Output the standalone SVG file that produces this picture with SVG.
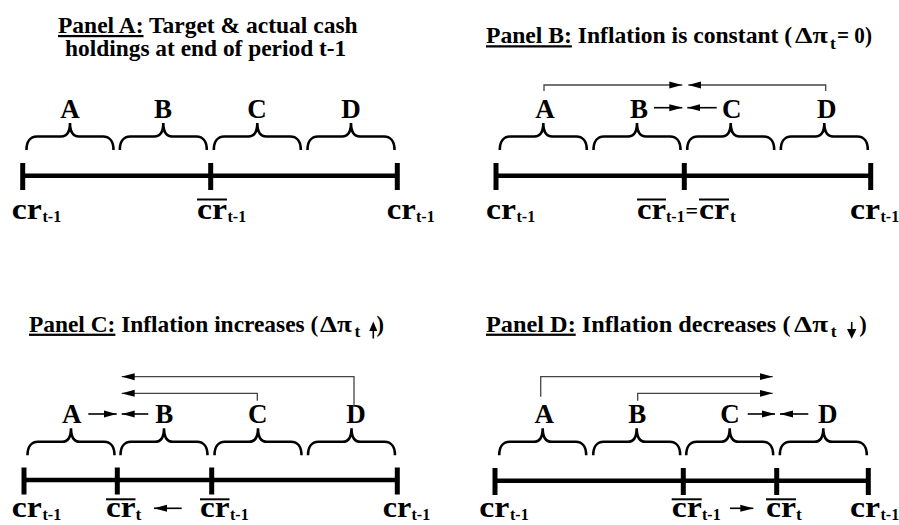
<svg xmlns="http://www.w3.org/2000/svg" width="899" height="525" viewBox="0 0 899 525">
<style>
text{font-family:"Liberation Serif","Times New Roman",serif;font-weight:bold;fill:#000}
.ttl{font-size:22.5px}
.let{font-size:27px;text-anchor:middle}
.cr{font-size:30px}
.sub{font-size:16px}
.subt{font-size:17.5px}
.eq{font-size:22px}
.axis{stroke:#000;stroke-width:4.5;fill:none}
.tick{stroke:#000;stroke-width:5;fill:none}
.ov{stroke:#000;stroke-width:2}
.brace{fill:none;stroke:#000;stroke-width:2.6}
.conn{fill:none;stroke:#444;stroke-width:1.3}
.short{fill:none;stroke:#000;stroke-width:1.6}
</style>
<defs>
<marker id="ah" markerUnits="userSpaceOnUse" markerWidth="13" markerHeight="8" refX="13" refY="4" orient="auto">
<path d="M0,0.5 L13,4 L0,7.5 z" fill="#000"/>
</marker>
<path id="br" d="M-43.5,27 C-43.5,19 -40,13.5 -33,13.5 H-9 C-3,13.5 0,9 0,0 C0,9 3,13.5 9,13.5 H33 C40,13.5 43.5,19 43.5,27"/>
</defs>

<!-- Panel A -->
<g id="panelA">
<g id="titleA">
<text class="ttl" transform="translate(58,33) scale(1.045,1)"><tspan text-decoration="underline">Panel A:</tspan> Target &amp; actual cash</text>
<text class="ttl" transform="translate(65,56) scale(1.04,1)">holdings at end of period t-1</text>
</g>
<g id="axisA">
<line class="axis" x1="23" y1="175.7" x2="397" y2="175.7"/>
<line class="tick" x1="22.7" y1="163" x2="22.7" y2="190"/>
<line class="tick" x1="210.7" y1="163" x2="210.7" y2="190"/>
<line class="tick" x1="397.3" y1="163" x2="397.3" y2="190"/>
</g>
<g id="bracesA">
<use href="#br" class="brace" x="70" y="123"/>
<use href="#br" class="brace" x="163.3" y="123"/>
<use href="#br" class="brace" x="257.3" y="123"/>
<use href="#br" class="brace" x="351" y="123"/>
</g>
<g id="lettersA">
<text class="let" x="70" y="118">A</text>
<text class="let" x="163" y="118">B</text>
<text class="let" x="257" y="118">C</text>
<text class="let" x="351" y="118">D</text>
</g>
<g id="labelsA">
<text class="cr" x="11.7" y="219" textLength="30" lengthAdjust="spacingAndGlyphs">cr</text><text class="sub" x="42.5" y="222">t-1</text>
<text class="cr" x="197" y="219" textLength="30" lengthAdjust="spacingAndGlyphs">cr</text><text class="sub" x="227.5" y="222">t-1</text>
<line class="ov" x1="197" y1="199.5" x2="227" y2="199.5"/>
<text class="cr" x="386.7" y="219" textLength="29" lengthAdjust="spacingAndGlyphs">cr</text><text class="sub" x="416" y="222">t-1</text>
</g>
</g>

<!-- Panel B -->
<g id="panelB">
<g id="titleB">
<text class="ttl" transform="translate(486,43.3) scale(1.05,1)"><tspan text-decoration="underline">Panel B:</tspan> Inflation is constant (</text>
<text class="ttl" x="795" y="43.3" textLength="33" lengthAdjust="spacingAndGlyphs">Δπ</text>
<text class="subt" x="830" y="48.8">t</text>
<text class="ttl" x="837" y="43.3" textLength="35" lengthAdjust="spacingAndGlyphs">= 0)</text>
</g>
<g id="axisB">
<line class="axis" x1="496" y1="175.7" x2="870.7" y2="175.7"/>
<line class="tick" x1="496" y1="163" x2="496" y2="190"/>
<line class="tick" x1="684.3" y1="163" x2="684.3" y2="190"/>
<line class="tick" x1="870.7" y1="163" x2="870.7" y2="190"/>
</g>
<g id="bracesB">
<use href="#br" class="brace" x="543.3" y="123"/>
<use href="#br" class="brace" x="637" y="123"/>
<use href="#br" class="brace" x="730.7" y="123"/>
<use href="#br" class="brace" x="824.3" y="123"/>
</g>
<g id="lettersB">
<text class="let" x="545" y="117.5">A</text>
<text class="let" x="639" y="117.5">B</text>
<text class="let" x="731.7" y="117.5">C</text>
<text class="let" x="826.7" y="117.5">D</text>
</g>
<g id="labelsB">
<text class="cr" x="486" y="219" textLength="30" lengthAdjust="spacingAndGlyphs">cr</text><text class="sub" x="516.5" y="222">t-1</text>
<text class="cr" x="637" y="219" textLength="29" lengthAdjust="spacingAndGlyphs">cr</text><text class="sub" x="666" y="222">t-1</text>
<line class="ov" x1="637" y1="199.5" x2="666" y2="199.5"/>
<text class="eq" x="685.5" y="218">=</text>
<text class="cr" x="699" y="219" textLength="30" lengthAdjust="spacingAndGlyphs">cr</text><text class="subt" x="730" y="222">t</text>
<line class="ov" x1="699" y1="199.5" x2="729" y2="199.5"/>
<text class="cr" x="850" y="219" textLength="30" lengthAdjust="spacingAndGlyphs">cr</text><text class="sub" x="880.5" y="222">t-1</text>
</g>
</g>

<!-- Panel C -->
<g id="panelC">
<g id="titleC">
<text class="ttl" transform="translate(29,331.7) scale(1.04,1)"><tspan text-decoration="underline">Panel C:</tspan> Inflation increases (</text>
<text class="ttl" x="320" y="331.7" textLength="32" lengthAdjust="spacingAndGlyphs">Δπ</text>
<text class="subt" x="354.5" y="337">t</text>
<line x1="373.3" y1="338.5" x2="373.3" y2="328" stroke="#000" stroke-width="1.6"/>
<path d="M369.3,331 L373.3,321.5 L377.3,331 z" fill="#000"/>
<text class="ttl" x="376.5" y="331.7">)</text>
</g>
<g id="axisC">
<line class="axis" x1="24" y1="480" x2="397.3" y2="480"/>
<line class="tick" x1="24" y1="467.5" x2="24" y2="494.5"/>
<line class="tick" x1="117.3" y1="467.5" x2="117.3" y2="494.5"/>
<line class="tick" x1="211.7" y1="467.5" x2="211.7" y2="494.5"/>
<line class="tick" x1="397.3" y1="467.5" x2="397.3" y2="494.5"/>
</g>
<g id="bracesC">
<use href="#br" class="brace" x="71" y="428.3"/>
<use href="#br" class="brace" x="164" y="428.3"/>
<use href="#br" class="brace" x="258" y="428.3"/>
<use href="#br" class="brace" x="351.5" y="428.3"/>
</g>
<g id="lettersC">
<text class="let" x="71.7" y="423.3">A</text>
<text class="let" x="164.3" y="423.3">B</text>
<text class="let" x="257.7" y="423.3">C</text>
<text class="let" x="356" y="423.3">D</text>
</g>
<g id="labelsC">
<text class="cr" x="11.7" y="516.7" textLength="30" lengthAdjust="spacingAndGlyphs">cr</text><text class="sub" x="42.5" y="519.7">t-1</text>
<text class="cr" x="106" y="516.7" textLength="29.5" lengthAdjust="spacingAndGlyphs">cr</text><text class="subt" x="135.5" y="519.7">t</text>
<line class="ov" x1="106" y1="499.3" x2="135.5" y2="499.3"/>
<text class="cr" x="200" y="516.7" textLength="29.5" lengthAdjust="spacingAndGlyphs">cr</text><text class="sub" x="230" y="519.7">t-1</text>
<line class="ov" x1="200" y1="499.3" x2="229.5" y2="499.3"/>
<text class="cr" x="382.7" y="516.7" textLength="28.5" lengthAdjust="spacingAndGlyphs">cr</text><text class="sub" x="411.5" y="519.7">t-1</text>
</g>
</g>

<!-- Panel D -->
<g id="panelD">
<g id="titleD">
<text class="ttl" transform="translate(486,331.7) scale(1.08,1)"><tspan text-decoration="underline">Panel D:</tspan> Inflation decreases (</text>
<text class="ttl" x="794" y="331.7" textLength="34" lengthAdjust="spacingAndGlyphs">Δπ</text>
<text class="subt" x="830.7" y="337">t</text>
<line x1="851.7" y1="322" x2="851.7" y2="332" stroke="#000" stroke-width="1.6"/>
<path d="M847,329 L851.7,338.8 L856.4,329 z" fill="#000"/>
<text class="ttl" x="859.3" y="331.7">)</text>
</g>
<g id="axisD">
<line class="axis" x1="495" y1="480.7" x2="868.3" y2="480.7"/>
<line class="tick" x1="495" y1="468" x2="495" y2="495"/>
<line class="tick" x1="683.3" y1="468" x2="683.3" y2="495"/>
<line class="tick" x1="776.7" y1="468" x2="776.7" y2="495"/>
<line class="tick" x1="868.3" y1="468" x2="868.3" y2="495"/>
</g>
<g id="bracesD">
<use href="#br" class="brace" x="542.7" y="428.3"/>
<use href="#br" class="brace" x="636.7" y="428.3"/>
<use href="#br" class="brace" x="729.7" y="428.3"/>
<use href="#br" class="brace" x="823.3" y="428.3"/>
</g>
<g id="lettersD">
<text class="let" x="544.3" y="423.3">A</text>
<text class="let" x="637.3" y="423.3">B</text>
<text class="let" x="730" y="423.3">C</text>
<text class="let" x="827.7" y="423.3">D</text>
</g>
<g id="labelsD">
<text class="cr" x="479.3" y="516.7" textLength="30" lengthAdjust="spacingAndGlyphs">cr</text><text class="sub" x="510" y="519.7">t-1</text>
<text class="cr" x="671.7" y="516.7" textLength="30" lengthAdjust="spacingAndGlyphs">cr</text><text class="sub" x="702" y="519.7">t-1</text>
<line class="ov" x1="671.7" y1="499.3" x2="701.7" y2="499.3"/>
<text class="cr" x="766" y="516.7" textLength="30" lengthAdjust="spacingAndGlyphs">cr</text><text class="subt" x="796" y="519.7">t</text>
<line class="ov" x1="766" y1="499.3" x2="796" y2="499.3"/>
<text class="cr" x="850" y="516.7" textLength="30" lengthAdjust="spacingAndGlyphs">cr</text><text class="sub" x="880.5" y="519.7">t-1</text>
</g>
</g>

<!-- Connectors -->
<g id="connectors">
<!-- Panel B -->
<path class="conn" d="M544,91 V85 H682.3" marker-end="url(#ah)"/>
<path class="conn" d="M825.7,91 V85 H688.3" marker-end="url(#ah)"/>
<path class="short" d="M654,107.7 H682.3" marker-end="url(#ah)"/>
<path class="short" d="M716.7,107.7 H687.3" marker-end="url(#ah)"/>
<!-- Panel C -->
<path class="conn" d="M354,406.7 V376.7 H121.7" marker-end="url(#ah)"/>
<path class="conn" d="M257.3,400.7 V393.3 H121.7" marker-end="url(#ah)"/>
<path class="short" d="M88.3,414 H116.7" marker-end="url(#ah)"/>
<path class="short" d="M148.3,414 H121.7" marker-end="url(#ah)"/>
<path class="short" d="M181.7,508.3 H154" marker-end="url(#ah)"/>
<!-- Panel D -->
<path class="conn" d="M540.7,396.7 V376.7 H772.7" marker-end="url(#ah)"/>
<path class="conn" d="M637.7,400.7 V393.3 H772.7" marker-end="url(#ah)"/>
<path class="short" d="M747.7,414 H775" marker-end="url(#ah)"/>
<path class="short" d="M808.3,414 H780" marker-end="url(#ah)"/>
<path class="short" d="M730,508.3 H753.3" marker-end="url(#ah)"/>
</g>
</svg>
